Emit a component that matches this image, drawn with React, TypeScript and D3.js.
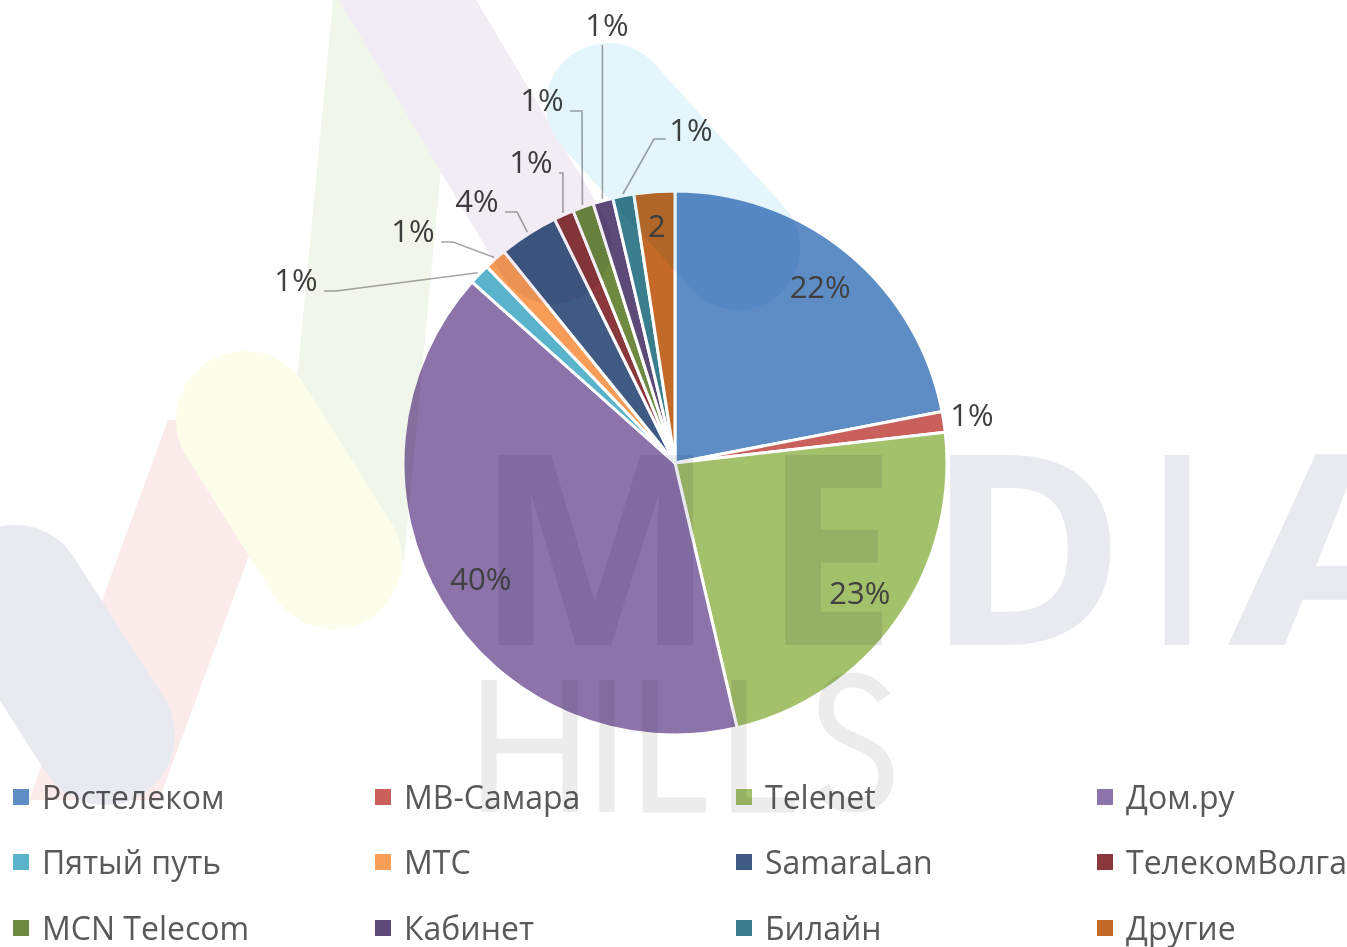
import React from 'react';
import * as d3 from 'd3';

// ---------- data ----------
const categories = ['Ростелеком', 'МВ-Самара', 'Telenet', 'Дом.ру', 'Пятый путь', 'МТС', 'SamaraLan', 'ТелекомВолга', 'MCN Telecom', 'Кабинет', 'Билайн', 'Другие'];
const shares = [21.97, 1.22, 23.14, 40.25, 1.25, 1.34, 3.52, 1.19, 1.25, 1.19, 1.25, 2.42];
const labelTexts = ['22%', '1%', '23%', '40%', '1%', '1%', '4%', '1%', '1%', '1%', '1%', '2'];
const colors = ['#5e8dc6', '#c9605c', '#a3c06b', '#8c73aa', '#58b3cb', '#f79d58', '#3f5b83', '#8a383b', '#6d8a40', '#5d4a78', '#3a7d8c', '#c46a28'];

// ---------- layout ----------
const W = 1347;
const H = 947;
const CX = 675;
const CY = 463;
const R = 272;
const FONT = "'Open Sans', 'Noto Sans', sans-serif";
// label placement: null => inside, [dx, dy, leader] => label centre relative to pie centre
const labelOffsets: (null | [number, number, boolean])[] = [
  null,
  [297, -48, false],
  null,
  null,
  [-379, -183, true],
  [-262, -232, true],
  [-198, -262, true],
  [-144, -301, true],
  [-133, -363, true],
  [-68, -438, true],
  [16, -333, true],
];
const insideRadius = [228, 0, 226, 226, 0, 0, 0, 0, 0, 0, 0, 238];

export default function App() {
  const pie = d3.pie<number>().sort(null).value((d) => d);
  const arcs = pie(shares);
  const arcGen = d3.arc<d3.PieArcDatum<number>>().innerRadius(0).outerRadius(R);

  const polar = (a: number, r: number): [number, number] => [CX + r * Math.sin(a), CY - r * Math.cos(a)];

  const labels: React.ReactNode[] = [];
  const leaders: React.ReactNode[] = [];
  arcs.forEach((a, i) => {
    const mid = (a.startAngle + a.endAngle) / 2;
    const off = labelOffsets[i];
    if (!off) {
      const [x, y] = polar(mid, insideRadius[i]);
      labels.push(
        <text key={'l' + i} x={x} y={y} dy="0.36em" textAnchor="middle" fontSize={31} fill="#404040" fontFamily={FONT}>
          {labelTexts[i]}
        </text>
      );
      return;
    }
    const lx = CX + off[0];
    const ly = CY + off[1];
    labels.push(
      <text key={'l' + i} x={lx} y={ly} dy="0.36em" textAnchor="middle" fontSize={31} fill="#404040" fontFamily={FONT}>
        {labelTexts[i]}
      </text>
    );
    if (off[2]) {
      const [ax, ay] = polar(mid, R + 2);
      const half = 21;
      let pts: [number, number][];
      if (Math.abs(lx - ax) < half) {
        pts = [[ax, ly + 20], [ax, ay]];
      } else if (lx < ax) {
        const sx = lx + half + 7;
        const ex = Math.min(sx + 12, ax);
        pts = [[sx, ly + 11], [ex, ly + 11], [ax, ay]];
      } else {
        const sx = lx - half - 4;
        const ex = Math.max(sx - 12, ax);
        pts = [[sx, ly + 9], [ex, ly + 9], [ax, ay]];
      }
      leaders.push(
        <path key={'p' + i} d={d3.line()(pts) || ''} fill="none" stroke="#a6a6a6" strokeWidth={1.6} />
      );
    }
  });

  const legendCols = [13, 375, 736, 1097];
  const legendRows = [797, 862, 928];

  return (
    <div style={{ position: 'absolute', left: 0, top: 0, width: W, height: H, background: '#fff' }}>
      <svg width={W} height={H} viewBox={`0 0 ${W} ${H}`} style={{ display: 'block' }}>
        <rect x={0} y={0} width={W} height={H} fill="#ffffff" />
        <g>
          {arcs.map((a, i) => (
            <path key={i} d={arcGen(a) || ''} transform={`translate(${CX},${CY})`} fill={colors[i]} stroke="#ffffff" strokeWidth={3} strokeLinejoin="round" />
          ))}
        </g>
        <g>{leaders}</g>
        <g>{labels}</g>
        <g>
          {categories.map((c, i) => {
            const col = i % 4;
            const row = Math.floor(i / 4);
            const x = legendCols[col];
            const y = legendRows[row];
            return (
              <g key={c}>
                <rect x={x} y={y - 8} width={16} height={16} fill={colors[i]} />
                <text x={x + 29} y={y} dy="0.36em" fontSize={32} fill="#595959" fontFamily={FONT}>
                  {c}
                </text>
              </g>
            );
          })}
        </g>
        {/* watermark */}
        <g style={{ mixBlendMode: 'multiply' }} pointerEvents="none">
          <polygon points="333,0 457,0 404,560 280,560" fill="#f1f6ea" />
          <polygon points="168,420 299,420 159,800 29,800" fill="#fbebeb" />
          <line x1={15} y1={595} x2={105} y2={735} stroke="#e9eaf0" strokeWidth={140} strokeLinecap="round" />
          <line x1={245} y1={420} x2={333} y2={560} stroke="#fdfdec" strokeWidth={138} strokeLinecap="round" />
          <line x1={372} y1={-60} x2={553} y2={245} stroke="#f2ecf4" strokeWidth={118} strokeLinecap="round" />
          <line x1={608} y1={105} x2={738} y2={248} stroke="#e5f5fc" strokeWidth={124} strokeLinecap="round" />
          <g fill="#e9eaef" fontFamily={FONT} fontWeight={700} fontSize={266}>
            <text x={476} y={645} textLength={240} lengthAdjust="spacingAndGlyphs">M</text>
            <text x={764} y={645} textLength={132} lengthAdjust="spacingAndGlyphs">E</text>
            <text x={926} y={645} textLength={200} lengthAdjust="spacingAndGlyphs">D</text>
            <text x={1150} y={645} textLength={54} lengthAdjust="spacingAndGlyphs">I</text>
            <text x={1228} y={645} textLength={240} lengthAdjust="spacingAndGlyphs">A</text>
          </g>
          <path
            d="M489,680 V812 M570,680 V812 M489,746 H570 M607,680 V812 M650,680 V805 H706 M739,680 V805 H795 M884,698 C874,684 862,680 852,680 C834,680 826,694 826,708 C826,730 845,737 857,742 C875,749 886,758 886,776 C886,796 872,805 855,805 C840,805 829,799 822,788"
            fill="none"
            stroke="#ececec"
            strokeWidth={15}
          />
        </g>
      </svg>
    </div>
  );
}
